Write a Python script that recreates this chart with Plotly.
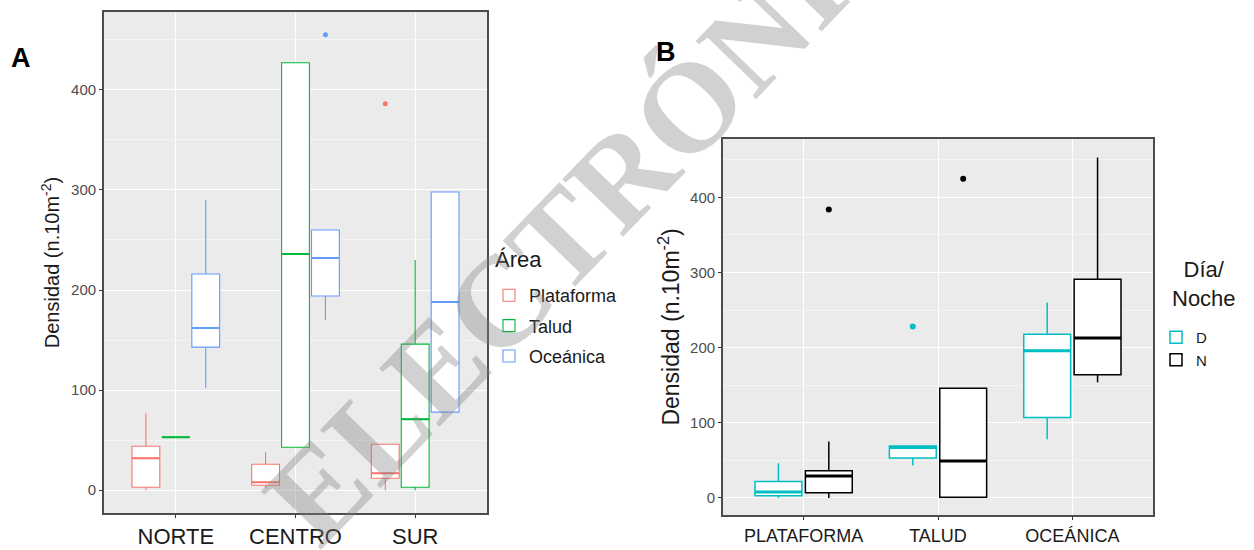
import plotly.graph_objects as go

W, H = 1254, 550

# ---------------- Panel A data ----------------
a_categories = ["NORTE", "CENTRO", "SUR"]
a_groups = ["Plataforma", "Talud", "Oceánica"]
a_colors = ["#F8766D", "#00BA38", "#619CFF"]

plat_q1 = [3, 5, 12]
plat_median = [32, 8, 17]
plat_q3 = [44, 26, 46]
plat_low = [0, 2, 0]
plat_up = [77, 38, 46]
plat_out_x = ["SUR"]
plat_out_y = [386]

talud_q1 = [53, 43, 3]
talud_median = [53, 236, 71]
talud_q3 = [53, 427, 146]
talud_low = [53, 43, 0]
talud_up = [53, 427, 230]
talud_out_x = ["NORTE"]
talud_out_y = [None]

oce_q1 = [143, 194, 78]
oce_median = [162, 232, 188]
oce_q3 = [216, 260, 298]
oce_low = [102, 170, 78]
oce_up = [290, 260, 298]
oce_out_x = ["CENTRO"]
oce_out_y = [455]

# ---------------- Panel B data ----------------
b_categories = ["PLATAFORMA", "TALUD", "OCEÁNICA"]
b_groups = ["D", "N"]
b_colors = ["#00BFC4", "#000000"]

d_q1 = [3, 53, 107]
d_median = [8, 67, 196]
d_q3 = [22, 69, 218]
d_low = [0, 43, 78]
d_up = [46, 69, 260]
d_out_x = ["TALUD"]
d_out_y = [228]

n_q1 = [7, 1, 164]
n_median = [29, 49, 213]
n_q3 = [36, 146, 291]
n_low = [0, 0, 154]
n_up = [75, 146, 453]
n_out_x = ["PLATAFORMA", "TALUD"]
n_out_y = [384, 425]

y_title = "Densidad (n.10m<sup>-2</sup>)"
legend_a_title = "Área"
legend_b_title = "Día/<br>Noche"
watermark = "ELECTRÓNICO"

fig = go.Figure()


def add_panel(cats, groups, colors, stats, legend_name, prefix, xa, ya,
              box_w, med_w, pt_size):
    for name, col, (q1, med, q3, lo, up, ox, oy) in zip(groups, colors, stats):
        fig.add_trace(go.Box(
            x=cats, q1=q1, median=med, q3=q3, lowerfence=lo, upperfence=up,
            name=name, legend=legend_name, legendgroup=prefix + name,
            offsetgroup=prefix + name,
            line=dict(color=col, width=box_w), fillcolor="white", whiskerwidth=0,
            boxpoints=False, xaxis=xa, yaxis=ya, hoverinfo="skip",
        ))
    # thicker median bars (ggplot style), sharing each group's slot
    for name, col, (q1, med, q3, lo, up, ox, oy) in zip(groups, colors, stats):
        fig.add_trace(go.Box(
            x=cats, q1=med, median=med, q3=med, lowerfence=med, upperfence=med,
            name=name, showlegend=False, offsetgroup=prefix + name,
            line=dict(color=col, width=med_w), fillcolor="rgba(0,0,0,0)",
            whiskerwidth=0, boxpoints=False, xaxis=xa, yaxis=ya, hoverinfo="skip",
        ))
    for name, col, (q1, med, q3, lo, up, ox, oy) in zip(groups, colors, stats):
        fig.add_trace(go.Scatter(
            x=ox, y=oy, mode="markers", orientation="v", offsetgroup=prefix + name,
            marker=dict(color=col, size=pt_size), showlegend=False,
            xaxis=xa, yaxis=ya, hoverinfo="skip",
        ))


a_stats = [
    (plat_q1, plat_median, plat_q3, plat_low, plat_up, plat_out_x, plat_out_y),
    (talud_q1, talud_median, talud_q3, talud_low, talud_up, talud_out_x, talud_out_y),
    (oce_q1, oce_median, oce_q3, oce_low, oce_up, oce_out_x, oce_out_y),
]
b_stats = [
    (d_q1, d_median, d_q3, d_low, d_up, d_out_x, d_out_y),
    (n_q1, n_median, n_q3, n_low, n_up, n_out_x, n_out_y),
]
add_panel(a_categories, a_groups, a_colors, a_stats, "legend", "A", "x", "y", 1.1, 2.0, 5)
add_panel(b_categories, b_groups, b_colors, b_stats, "legend2", "B", "x2", "y2", 1.5, 3.0, 6)

axis_common = dict(
    showline=True, mirror=True, linecolor="#4D4D4D", linewidth=1.8,
    ticks="outside", ticklen=3, tickcolor="#333333", gridcolor="white",
    zeroline=False, automargin=False,
)
yrange = [-22.75, 477.75]
minor_grid = dict(tickvals=[50, 150, 250, 350, 450], showgrid=True,
                  gridcolor="#F4F4F4", gridwidth=0.6, ticks="")

fig.update_layout(
    width=W, height=H,
    margin=dict(l=0, r=0, t=0, b=0),
    paper_bgcolor="white", plot_bgcolor="#EBEBEB",
    font=dict(family="Liberation Sans, Arial, sans-serif", color="#1a1a1a"),
    boxmode="group", boxgap=0.25, boxgroupgap=0.07,
    scattermode="group", scattergap=0.25,
    xaxis=dict(domain=[104 / W, 487 / W], anchor="y", type="category",
               range=[-0.6, 2.6], tickfont=dict(size=22, color="#1a1a1a"),
               gridwidth=1.2, **axis_common),
    yaxis=dict(domain=[1 - 513 / H, 1 - 12 / H], anchor="x", range=yrange,
               tickvals=[0, 100, 200, 300, 400],
               tickfont=dict(size=15, color="#4D4D4D"),
               title=dict(text=y_title, font=dict(size=20, color="#1a1a1a"), standoff=6),
               gridwidth=1.2, minor=minor_grid, **axis_common),
    xaxis2=dict(domain=[723 / W, 1153 / W], anchor="y2", type="category",
                range=[-0.6, 2.6], tickfont=dict(size=18, color="#1a1a1a"),
                gridwidth=1.2, **axis_common),
    yaxis2=dict(domain=[1 - 515 / H, 1 - 139 / H], anchor="x2", range=yrange,
                tickvals=[0, 100, 200, 300, 400],
                tickfont=dict(size=15, color="#4D4D4D"),
                title=dict(text=y_title, font=dict(size=23, color="#1a1a1a"), standoff=4),
                gridwidth=1.2, minor=minor_grid, **axis_common),
    legend=dict(x=489 / W, xanchor="left", y=1 - 277 / H, yanchor="top",
                font=dict(size=18), traceorder="grouped", tracegroupgap=4,
                bgcolor="rgba(0,0,0,0)"),
    legend2=dict(x=1156 / W, xanchor="left", y=1 - 321 / H, yanchor="top",
                 font=dict(size=15), traceorder="grouped", tracegroupgap=0,
                 bgcolor="rgba(0,0,0,0)"),
    annotations=[
        dict(text=legend_a_title, x=493 / W, y=1 - 260 / H, xref="paper", yref="paper",
             xanchor="left", yanchor="middle", showarrow=False,
             font=dict(size=22, color="#1a1a1a")),
        dict(text=legend_b_title, x=1204 / W, y=1 - 284 / H, xref="paper", yref="paper",
             xanchor="center", yanchor="middle", align="center", showarrow=False,
             font=dict(size=22, color="#1a1a1a")),
        dict(text="<b>A</b>", x=21 / W, y=1 - 58 / H, xref="paper", yref="paper",
             xanchor="center", yanchor="middle",
             showarrow=False, font=dict(size=27, color="black")),
        dict(text="<b>B</b>", x=666 / W, y=1 - 52 / H, xref="paper", yref="paper",
             xanchor="center", yanchor="middle",
             showarrow=False, font=dict(size=27, color="black")),
        dict(text="<b>" + watermark + "</b>", x=622 / W, y=1 - 176 / H,
             xref="paper", yref="paper", xanchor="center", yanchor="middle",
             showarrow=False, textangle=-46,
             font=dict(size=128, family="Liberation Serif, serif",
                       color="rgba(128,128,128,0.36)")),
    ],
)

fig.write_html(
    "out.html",
    config={"displayModeBar": False},
    post_script="document.body.style.margin='0';document.body.style.overflow='hidden';",
)
